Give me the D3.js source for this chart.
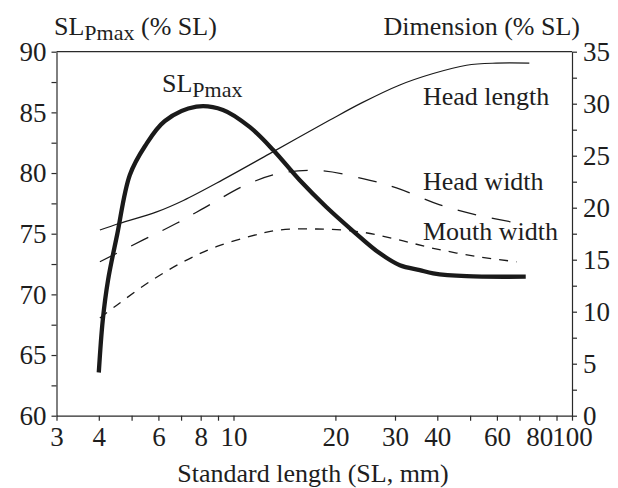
<!DOCTYPE html>
<html>
<head>
<meta charset="utf-8">
<script src="https://cdn.jsdelivr.net/npm/d3@7"></script>
<style>
  body { margin: 0; background: #fff; }
  svg text { font-family: "Liberation Serif", "DejaVu Serif", "Times New Roman", serif !important; fill: #1e1e1e; }
  .axis path, .axis line { stroke: #2a2a2a; stroke-width: 1.2; }
</style>
</head>
<body>
<svg id="chart" width="618" height="488"></svg>
<script>
// Standard length (mm) and SLPmax (% SL), left axis
var slpX = [4.0, 4.11, 4.26, 4.53, 4.94, 5.48, 6.27, 7.77, 9.31, 11.16, 13.1, 15.7, 18.8, 22.6, 27.0, 31, 35.5, 38.9, 48.8, 73];
var slpY = [63.56, 67.89, 71.18, 74.89, 79.84, 82.23, 84.29, 85.47, 85.2, 83.8, 81.9, 79.4, 77.2, 75.2, 73.4, 72.4, 72.0, 71.74, 71.5, 71.46];

// Dimensions (% SL), right axis
var headLenX = [4.03, 4.62, 5.93, 7.11, 9.31, 12.8, 19.2, 24, 31, 38.9, 48.8, 59.7, 74.8];
var headLenY = [17.86, 18.5, 19.6, 20.7, 22.7, 25.2, 28.4, 30.1, 31.8, 32.9, 33.7, 33.9, 33.9];

var headWidX = [4.03, 5.41, 6.79, 8.52, 10.9, 13.7, 18.0, 24.1, 30.3, 40.5, 52.3, 71];
var headWidY = [14.8, 16.9, 18.5, 20.3, 22.2, 23.3, 23.56, 22.8, 21.9, 20.3, 19.3, 18.45];

var mouthX = [4.03, 4.51, 5.66, 7.11, 8.9, 12.0, 13.7, 17.6, 23.4, 30.3, 38.9, 52.3, 68.6];
var mouthY = [9.4, 10.6, 12.9, 14.8, 16.25, 17.5, 17.86, 17.95, 17.7, 16.96, 16.1, 15.3, 14.8];

var xTicks = [3, 4, 5, 6, 7, 8, 9, 10, 20, 30, 40, 50, 60, 70, 80, 90, 100];
var xLabels = [3, 4, 6, 8, 10, 20, 30, 40, 60, 80, 100];
var leftTicks = d3.range(60, 90.1, 2.5);
var rightTicks = d3.range(0, 35.1, 2.5);

var svg = d3.select("#chart");
var x0 = 56.5, x1 = 572, yTop = 51.7, yBot = 415.7;

var x = d3.scaleLog().domain([3, 100]).range([x0, x1]);
var yL = d3.scaleLinear().domain([60, 90]).range([yBot, yTop]);
var yR = d3.scaleLinear().domain([0, 35]).range([yBot, yTop]);

// axes
svg.append("g").attr("class", "axis")
    .attr("transform", "translate(0," + yBot + ")")
    .call(d3.axisBottom(x).tickValues(xTicks).tickSize(5).tickSizeOuter(0).tickPadding(6)
	  .tickFormat(function(d) { return xLabels.indexOf(d) >= 0 ? d : ""; }));
svg.append("g").attr("class", "axis")
    .attr("transform", "translate(" + x0 + ",0)")
    .call(d3.axisLeft(yL).tickValues(leftTicks).tickSize(5).tickSizeOuter(0).tickPadding(5)
	  .tickFormat(function(d) { return d % 5 === 0 ? d : ""; }));
svg.append("g").attr("class", "axis")
    .attr("transform", "translate(" + x1 + ",0)")
    .call(d3.axisRight(yR).tickValues(rightTicks).tickSize(5).tickSizeOuter(0).tickPadding(6)
	  .tickFormat(function(d) { return d % 5 === 0 ? d : ""; }));
svg.selectAll(".axis").attr("font-family", null);
svg.selectAll(".axis text").style("font-size", "27px").attr("fill", "#1e1e1e");

// top frame line
svg.append("line")
    .attr("x1", x0).attr("x2", x1).attr("y1", yTop).attr("y2", yTop)
    .attr("stroke", "#2a2a2a").attr("stroke-width", 1.2);

function drawCurve(xs, ys, yScale, width, dash) {
    var pts = xs.map(function(d, i) { return [d, ys[i]]; });
    var line = d3.line()
	.x(function(d) { return x(d[0]); })
	.y(function(d) { return yScale(d[1]); })
	.curve(d3.curveCatmullRom.alpha(0.5));
    svg.append("path")
	.datum(pts)
	.attr("d", line)
	.attr("fill", "none")
	.attr("stroke", "#1a1a1a")
	.attr("stroke-width", width)
	.attr("stroke-dasharray", dash);
}

drawCurve(headLenX, headLenY, yR, 1.2, null);
drawCurve(headWidX, headWidY, yR, 1.3, "19,16");
drawCurve(mouthX, mouthY, yR, 1.3, "9,8");
drawCurve(slpX, slpY, yL, 4.3, null);

// titles and labels
function slpLabel(px, py) {
    var t = svg.append("text").attr("x", px).attr("y", py).style("font-size", "26px");
    t.append("tspan").text("SL");
    t.append("tspan").attr("dy", 5).style("font-size", "22px").text("Pmax");
    return t;
}
var lt = slpLabel(54, 35);
lt.append("tspan").attr("dy", -5).text(" (% SL)");
slpLabel(162, 92);

svg.append("text").attr("x", 580).attr("y", 35).attr("text-anchor", "end")
    .style("font-size", "26px").text("Dimension (% SL)");

var labels = [["Head length", 105], ["Head width", 190], ["Mouth width", 240]];
svg.selectAll(".lab").data(labels).enter().append("text")
    .attr("class", "lab")
    .attr("x", 423).attr("y", function(d) { return d[1]; })
    .style("font-size", "26px")
    .text(function(d) { return d[0]; });

svg.append("text").attr("x", 313).attr("y", 482).attr("text-anchor", "middle")
    .style("font-size", "26px").text("Standard length (SL, mm)");
</script>
</body>
</html>
